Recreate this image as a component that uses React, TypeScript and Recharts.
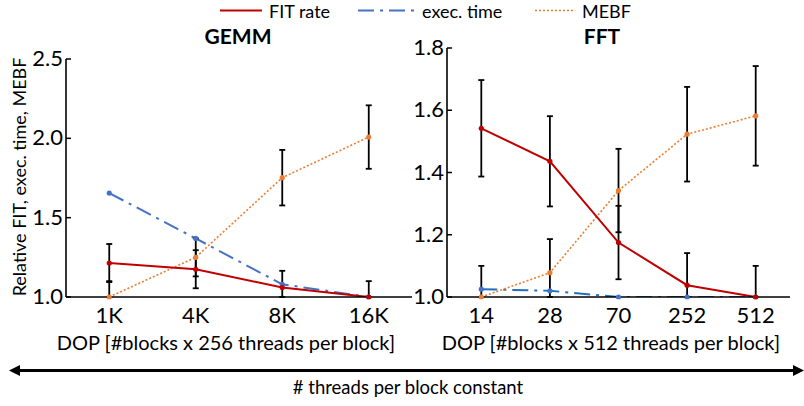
import React from 'react';
import { LineChart, Line, XAxis, YAxis, ErrorBar } from 'recharts';

// GEMM panel
const gemmCats = ['1K', '4K', '8K', '16K'];
const gemmFit = [1.214, 1.175, 1.06, 1.0];
const gemmFitErr = [0.12, 0.12, 0.105, 0.1];
const gemmExec = [1.655, 1.369, 1.08, 1.0];
const gemmMebf = [1.0, 1.25, 1.752, 2.008];
const gemmMebfErr = [0.1, 0.12, 0.175, 0.2];
const gemmTicks = [1.0, 1.5, 2.0, 2.5];

// FFT panel
const fftCats = ['14', '28', '70', '252', '512'];
const fftFit = [1.542, 1.436, 1.175, 1.038, 1.0];
const fftFitErr = [0.155, 0.145, 0.118, 0.103, 0.1];
const fftExec = [1.025, 1.02, 1.0, 1.0, 1.0];
const fftMebf = [1.0, 1.078, 1.342, 1.523, 1.582];
const fftMebfErr = [0.1, 0.108, 0.134, 0.152, 0.16];
const fftTicks = [1.0, 1.2, 1.4, 1.6, 1.8];

const FONT = 'Lato, "Open Sans", sans-serif';
const RED = '#C00000';
const BLUE = '#4472C4';
const BLUE_DARK = '#1F70C1';
const ORANGE = '#ED7D31';

// error bars stop at the x axis (axis starts at 1.0)
const errPair = (v: number, e: number, floor: number) => [Math.min(e, v - floor), e];

const build = (cats: string[], fit: number[], fitErr: number[], exec: number[], mebf: number[], mebfErr: number[], floor: number) =>
  cats.map((c, i) => ({
    i,
    cat: c,
    fit: fit[i],
    fitErr: errPair(fit[i], fitErr[i], floor),
    exec: exec[i],
    mebf: mebf[i],
    mebfErr: errPair(mebf[i], mebfErr[i], floor),
  }));

const gemmData = build(gemmCats, gemmFit, gemmFitErr, gemmExec, gemmMebf, gemmMebfErr, 1);
const fftData = build(fftCats, fftFit, fftFitErr, fftExec, fftMebf, fftMebfErr, 1);

const tickStyle = { fontSize: 22, fill: '#000', fontFamily: FONT };

interface PanelProps {
  data: any[];
  cats: string[];
  ticks: number[];
  domain: [number, number];
  left: number;
  width: number;
  top: number;
  yWidth: number;
  execColor: string;
}

const Panel: React.FC<PanelProps> = ({ data, cats, ticks, domain, left, width, top, yWidth, execColor }) => {
  // inward tick marks on the y axis
  const YTick = (props: any) => {
    const { y, payload } = props;
    return (
      <g>
        <line x1={yWidth} y1={y} x2={yWidth + 5} y2={y} stroke="#000" strokeWidth={1.5} />
        <text x={yWidth - 3} y={y} dy={7} textAnchor="end" fontSize={22} fontFamily={FONT} fill="#000">
          {Number(payload.value).toFixed(1)}
        </text>
      </g>
    );
  };

  return (
    <LineChart
      width={width}
      height={330}
      data={data}
      margin={{ top, right: 0, bottom: 3, left: 0 }}
      style={{ position: 'absolute', left, top: 0 }}
    >
      <XAxis
        dataKey="i"
        type="number"
        domain={[-0.5, cats.length - 0.5]}
        ticks={cats.map((_, i) => i)}
        tickFormatter={(v: number) => cats[v]}
        height={30}
        tick={tickStyle}
        tickLine={false}
        axisLine={{ stroke: '#000', strokeWidth: 1.6 }}
        tickMargin={4}
      />
      <YAxis
        type="number"
        domain={domain}
        ticks={ticks}
        allowDataOverflow
        width={yWidth}
        tick={<YTick />}
        tickLine={false}
        axisLine={{ stroke: '#000', strokeWidth: 1.6 }}
      />
      <Line
        dataKey="exec"
        stroke={execColor}
        strokeWidth={2}
        strokeDasharray="16 6 3 6"
        dot={{ r: 2.6, fill: BLUE, stroke: BLUE, strokeWidth: 0, clipDot: false }}
        isAnimationActive={false}
      />
      <Line
        dataKey="mebf"
        stroke={ORANGE}
        strokeWidth={1.6}
        strokeDasharray="2 2"
        dot={{ r: 2.6, fill: ORANGE, stroke: ORANGE, strokeWidth: 0, clipDot: false }}
        isAnimationActive={false}
      >
        <ErrorBar dataKey="mebfErr" direction="y" width={3} stroke="#000" strokeWidth={1.8} />
      </Line>
      <Line
        dataKey="fit"
        stroke={RED}
        strokeWidth={2}
        dot={{ r: 2.6, fill: RED, stroke: RED, strokeWidth: 0, clipDot: false }}
        isAnimationActive={false}
      >
        <ErrorBar dataKey="fitErr" direction="y" width={3} stroke="#000" strokeWidth={1.8} />
      </Line>
    </LineChart>
  );
};

export default function App() {
  return (
    <div style={{ position: 'absolute', left: 0, top: 0, width: 804, height: 406, background: '#fff', fontFamily: FONT }}>
      <Panel data={gemmData} cats={gemmCats} ticks={gemmTicks} domain={[1, 2.5]} left={0} width={412} top={59} yWidth={66} execColor={BLUE} />
      <Panel data={fftData} cats={fftCats} ticks={fftTicks} domain={[1, 1.8]} left={400} width={390} top={48} yWidth={47} execColor={BLUE_DARK} />
      <svg width={804} height={406} style={{ position: 'absolute', left: 0, top: 0, pointerEvents: 'none' }}>
        {/* legend */}
        <line x1={220} y1={10.5} x2={262} y2={10.5} stroke={RED} strokeWidth={2} />
        <text x={269} y={18} fontSize={18} fontFamily={FONT}>FIT rate</text>
        <line x1={358} y1={10.5} x2={417} y2={10.5} stroke={BLUE} strokeWidth={2} strokeDasharray="16 6 3 6" />
        <text x={422} y={18} fontSize={18} fontFamily={FONT}>exec. time</text>
        <line x1={535} y1={10.5} x2={575} y2={10.5} stroke={ORANGE} strokeWidth={1.6} strokeDasharray="2 2" />
        <text x={582} y={18} fontSize={18} fontFamily={FONT}>MEBF</text>
        {/* titles */}
        <text x={238} y={44} fontSize={21} fontWeight="bold" textAnchor="middle" fontFamily={FONT}>GEMM</text>
        <text x={602} y={44} fontSize={21} fontWeight="bold" textAnchor="middle" fontFamily={FONT}>FFT</text>
        {/* y label */}
        <text x={0} y={0} fontSize={18} textAnchor="middle" fontFamily={FONT} transform="translate(26,177) rotate(-90)">
          Relative FIT, exec. time, MEBF
        </text>
        {/* x labels */}
        <text x={226} y={350} fontSize={20} textAnchor="middle" fontFamily={FONT}>DOP [#blocks x 256 threads per block]</text>
        <text x={611} y={350} fontSize={20} textAnchor="middle" fontFamily={FONT}>DOP [#blocks x 512 threads per block]</text>
        {/* arrow */}
        <line x1={18} y1={370.5} x2={795} y2={370.5} stroke="#000" strokeWidth={3} />
        <polygon points="9,370.5 20,365 20,376" fill="#000" />
        <polygon points="804,370.5 793,365 793,376" fill="#000" />
        <text x={408} y={394} fontSize={18.5} textAnchor="middle" fontFamily={FONT}># threads per block constant</text>
      </svg>
    </div>
  );
}
